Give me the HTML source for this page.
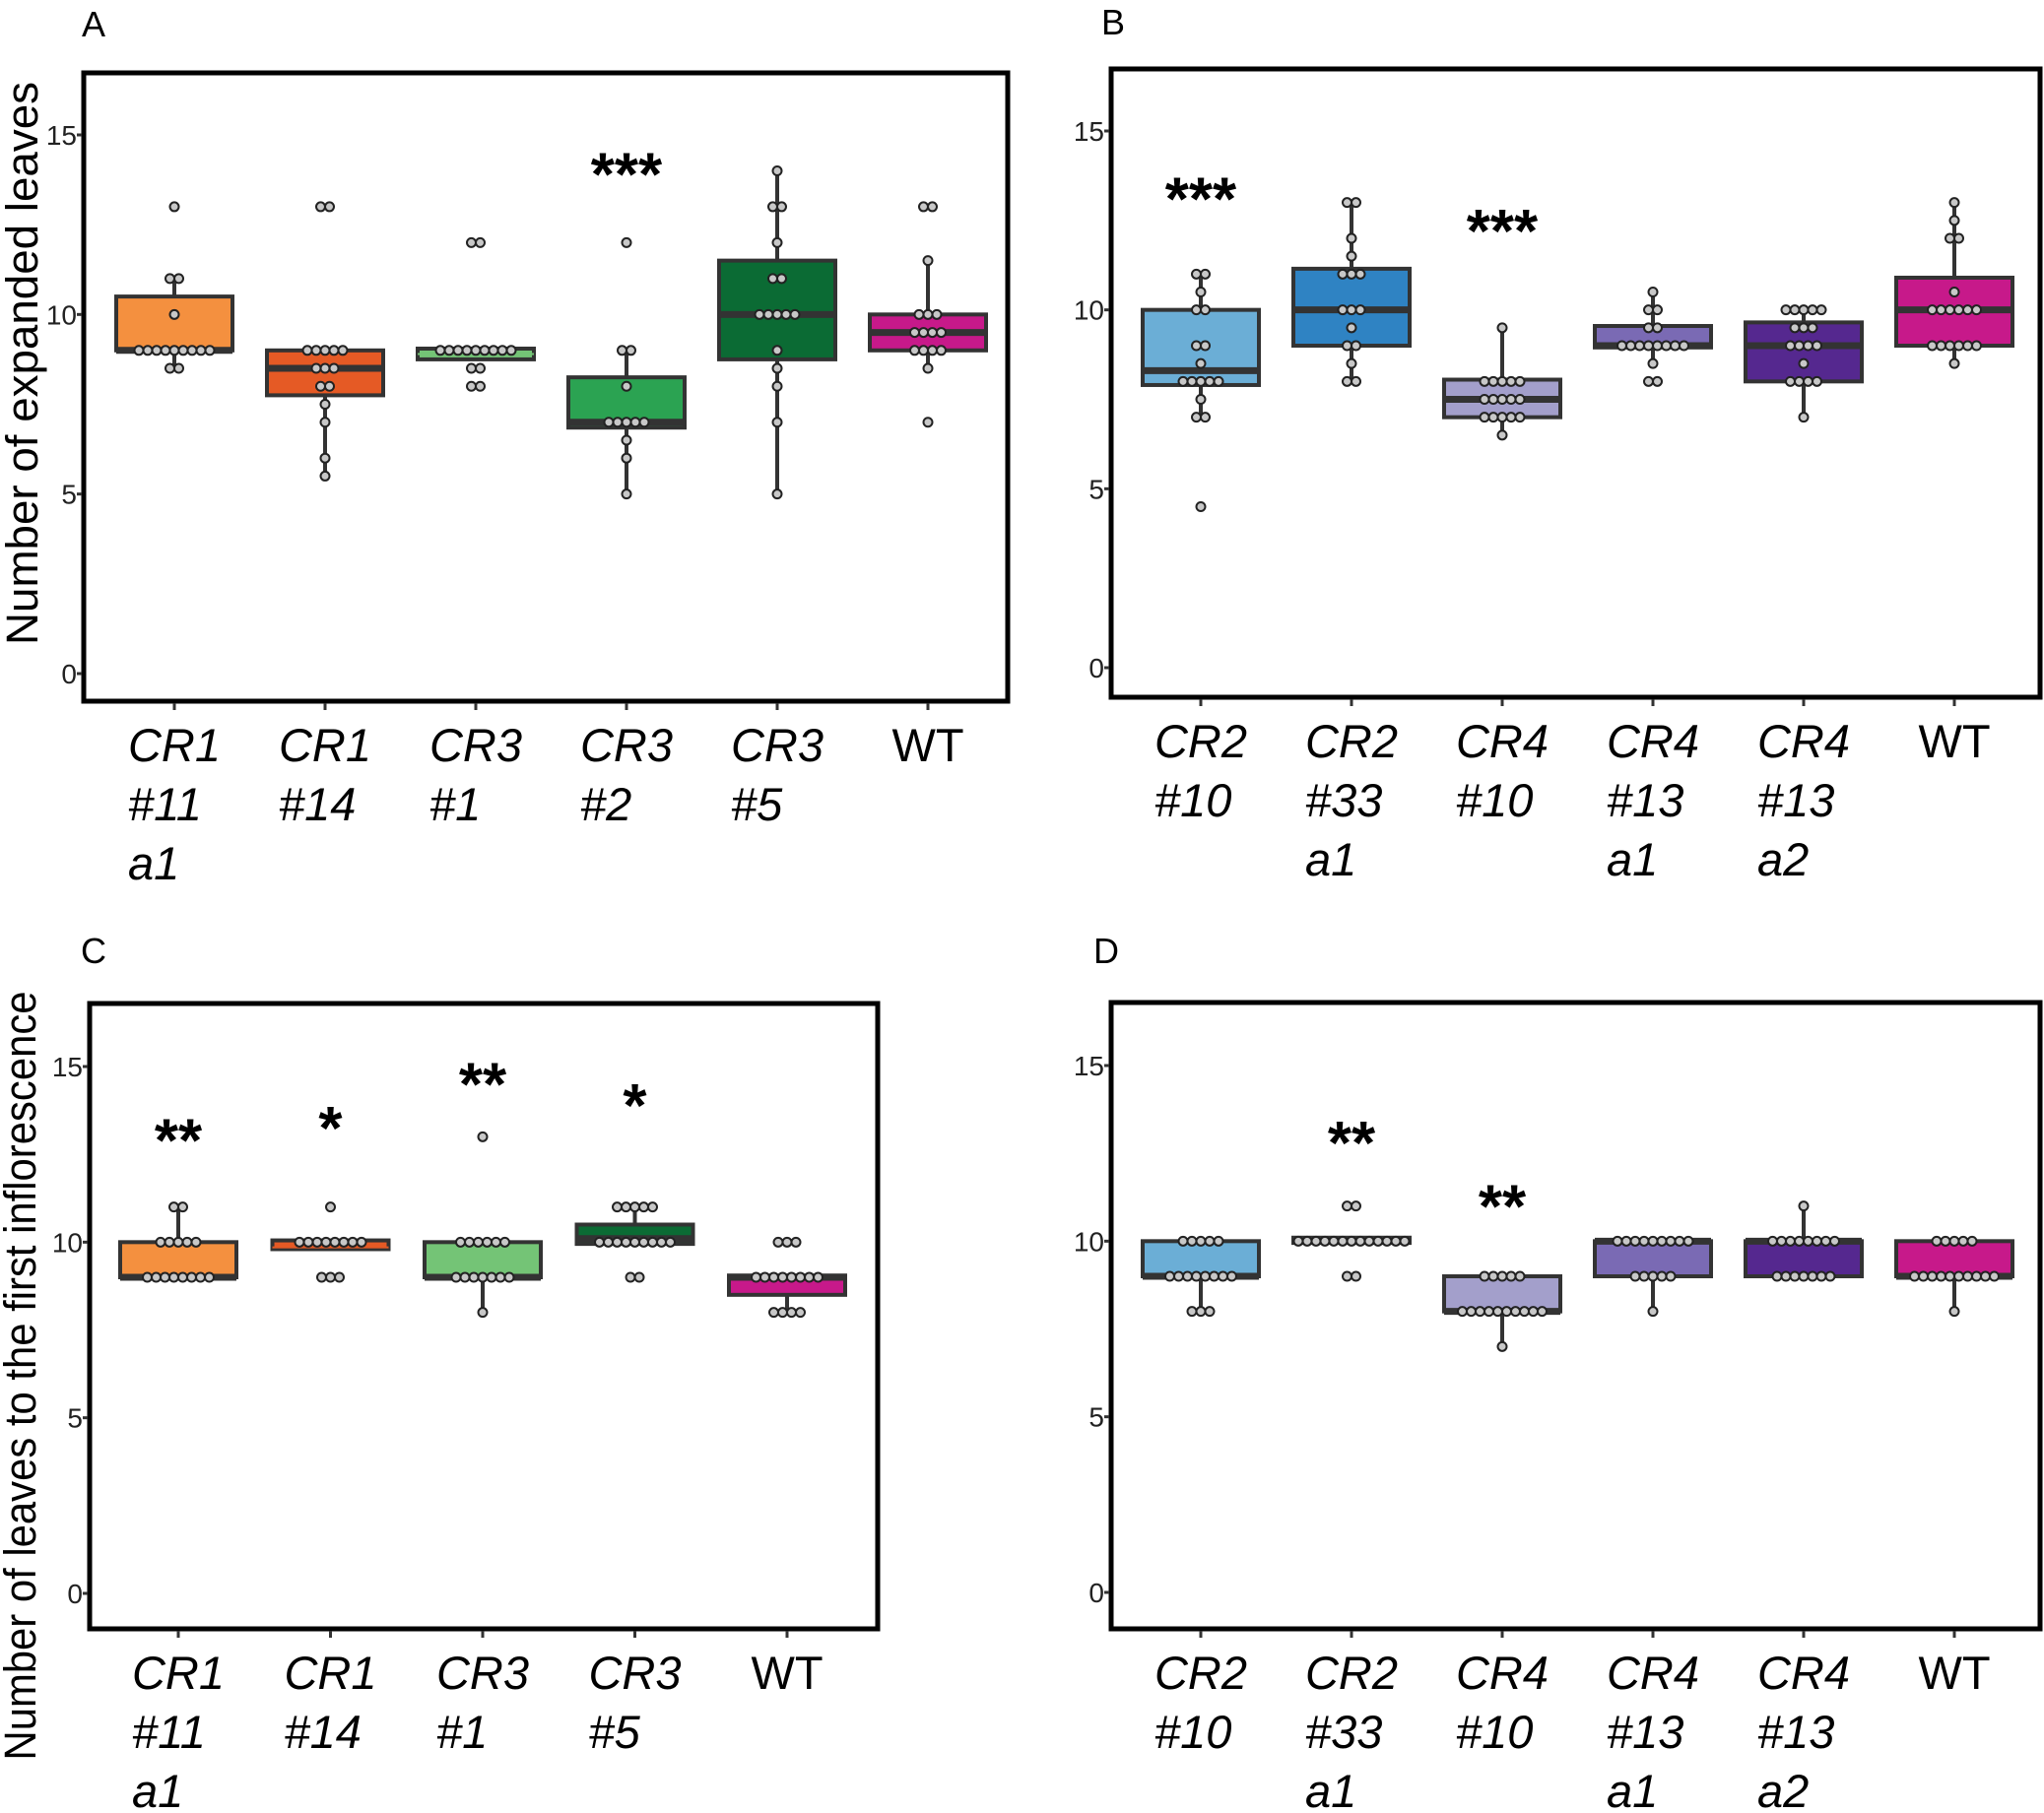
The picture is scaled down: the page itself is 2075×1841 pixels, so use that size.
<!DOCTYPE html>
<html><head><meta charset="utf-8">
<style>
html,body{margin:0;padding:0;background:#fff;}
svg{display:block;font-family:"Liberation Sans",sans-serif;}
</style></head>
<body>
<svg id="fig" width="2075" height="1841" viewBox="0 0 2075 1841" xmlns="http://www.w3.org/2000/svg"></svg>
<script>
// ---- Data ----
const aCats = [["CR1","#11","a1"],["CR1","#14"],["CR3","#1"],["CR3","#2"],["CR3","#5"],["WT"]];
const aQ1 = [9, 7.75, 8.75, 6.85, 8.75, 9];
const aMed = [9, 8.5, 8.9, 7, 10, 9.5];
const aQ3 = [10.5, 9, 9.05, 8.25, 11.5, 10];
const aLo = [8.5, 5.5, 8.75, 5, 5, 8.5];
const aHi = [11, 9, 9.05, 9, 14, 11.5];
const aDots = [
  [[13,1],[11,2],[10,1],[9,9],[8.5,2]],
  [[13,2],[9,5],[8.5,3],[8,2],[7.5,1],[7,1],[6,1],[5.5,1]],
  [[12,2],[9,9],[8.5,2],[8,2]],
  [[12,1],[9,2],[8,1],[7,5],[6.5,1],[6,1],[5,1]],
  [[14,1],[13,2],[12,1],[11,2],[10,5],[9,1],[8.5,1],[8,1],[7,1],[5,1]],
  [[13,2],[11.5,1],[10,3],[9.5,4],[9,4],[8.5,1],[7,1]]
];
const aStars = ["","","","***","",""];
const aStarY = [0,0,0,14.3,0,0];

const bCats = [["CR2","#10"],["CR2","#33","a1"],["CR4","#10"],["CR4","#13","a1"],["CR4","#13","a2"],["WT"]];
const bQ1 = [7.9, 9, 7, 8.95, 8, 9];
const bMed = [8.3, 10, 7.5, 9, 9, 10];
const bQ3 = [10, 11.15, 8.05, 9.55, 9.65, 10.9];
const bLo = [7, 8, 6.5, 8.5, 7, 8.5];
const bHi = [11, 13, 9.5, 10.5, 10, 13];
const bDots = [
  [[11,2],[10.5,1],[10,2],[9,2],[8.5,1],[8,5],[7.5,1],[7,2],[4.5,1]],
  [[13,2],[12,1],[11.5,1],[11,3],[10,3],[9.5,1],[9,2],[8.5,1],[8,2]],
  [[9.5,1],[8,5],[7.5,5],[7,5],[6.5,1]],
  [[10.5,1],[10,2],[9.5,2],[9,8],[8.5,1],[8,2]],
  [[10,5],[9.5,3],[9,4],[8.5,1],[8,4],[7,1]],
  [[13,1],[12.5,1],[12,2],[10.5,1],[10,6],[9,6],[8.5,1]]
];
const bStars = ["***","","***","","",""];
const bStarY = [13.5,0,12.6,0,0,0];

const cCats = [["CR1","#11","a1"],["CR1","#14"],["CR3","#1"],["CR3","#5"],["WT"]];
const cQ1 = [9, 9.8, 9, 9.95, 8.5];
const cMed = [9, 9.85, 9, 10.1, 9];
const cQ3 = [10, 10.05, 10, 10.5, 9.05];
const cLo = [9, 9.8, 8, 9.95, 8];
const cHi = [11, 10.05, 10, 11, 9.05];
const cDots = [
  [[11,2],[10,5],[9,8]],
  [[11,1],[10,8],[9,3]],
  [[13,1],[10,6],[9,7],[8,1]],
  [[11,5],[10,9],[9,2]],
  [[10,3],[9,8],[8,4]]
];
const cStars = ["**","*","**","*",""];
const cStarY = [13.3,13.65,14.9,14.3,0];

const dCats = [["CR2","#10"],["CR2","#33","a1"],["CR4","#10"],["CR4","#13","a1"],["CR4","#13","a2"],["WT"]];
const dQ1 = [9, 9.95, 8, 9, 9, 9];
const dMed = [9, 10, 8, 10, 10, 9];
const dQ3 = [10, 10.1, 9, 10, 10, 10];
const dLo = [8, 9.95, 7, 8, 9, 8];
const dHi = [10, 10.1, 9, 10, 11, 10];
const dDots = [
  [[10,5],[9,8],[8,3]],
  [[11,2],[10,13],[9,2]],
  [[9,5],[8,10],[7,1]],
  [[10,9],[9,5],[8,1]],
  [[11,1],[10,8],[9,7]],
  [[10,5],[9,10],[8,1]]
];
const dStars = ["","**","**","","",""];
const dStarY = [0,13.2,11.4,0,0,0];

const yTicks = [0,5,10,15];
const yTickLabels = ["0","5","10","15"];

// ---- Styling / layout (not data) ----
const aFill = ["#f4903f","#e55a25","#74c476","#2ba352","#0b6b34","#c7198a"];
const bFill = ["#6baed6","#2f83c3","#a39fcb","#7a6ab4","#55288f","#c7198a"];
const cFill = ["#f4903f","#e55a25","#74c476","#0b6b34","#c7198a"];
const aThin = [false,false,true,false,false,false];
const cThin = [false,true,false,false,false];
const bThin = [false,false,false,false,false,false];

const NS = "http://www.w3.org/2000/svg";
const svg = document.getElementById("fig");
function el(tag, attrs, parent){
  const e = document.createElementNS(NS, tag);
  for (const k in attrs) e.setAttribute(k, attrs[k]);
  (parent||svg).appendChild(e);
  return e;
}

function drawPanel(P){
  const g = el("g", {});
  
  
  const y = v => P.y0 + (P.y15 - P.y0) * v / 15;
  const x = i => P.xFirst + i * P.step;
  const lt = el("text", {x:P.letterX, y:P.letterY, "font-size":36, fill:"#000"}, g);
  lt.textContent = P.id.toUpperCase();
  
  
  const fr = el("rect", {x:P.left, y:P.top, width:P.right-P.left, height:P.bottom-P.top, fill:"none", stroke:"#000", "stroke-width":5}, g);
  
  
  yTicks.forEach((t, i) => {
    const tk = el("line", {x1:P.left-7, x2:P.left-2, y1:y(t), y2:y(t), stroke:"#333", "stroke-width":3}, g);
    
    
    const tl = el("text", {x:P.left-7, y:y(t)+10, "font-size":28, "text-anchor":"end", fill:"#222"}, g);
    tl.textContent = yTickLabels[i];
    
    
  });
  if (P.title){
    const tt = el("text", {x:0, y:0, "font-size":45, "text-anchor":"middle", fill:"#000",
      transform:`translate(${P.titleX},${P.titleY}) rotate(-90)`, textLength:P.titleLen, lengthAdjust:"spacingAndGlyphs"}, g);
    tt.textContent = P.title;
    
    
  }
  const hw = 59;
  P.cats.forEach((c, i) => {
    const cx = x(i);
    const grp = el("g", {}, g);
    
    
    const xt = el("line", {x1:cx, x2:cx, y1:P.bottom+2, y2:P.bottom+9, stroke:"#333", "stroke-width":3}, grp);
    
    
    const w1 = el("line", {x1:cx, x2:cx, y1:y(P.hi[i]), y2:y(P.q3[i]), stroke:"#333", "stroke-width":4}, grp);
    
    
    const w2 = el("line", {x1:cx, x2:cx, y1:y(P.q1[i]), y2:y(P.lo[i]), stroke:"#333", "stroke-width":4}, grp);
    
    
    const bx = el("rect", {x:cx-hw, y:y(P.q3[i]), width:2*hw, height:Math.max(2, y(P.q1[i])-y(P.q3[i])), fill:P.fill[i], stroke:"#333", "stroke-width":4}, grp);
    
    
    const md = el("line", {x1:cx-hw, x2:cx+hw, y1:y(P.med[i]), y2:y(P.med[i]),
      stroke: P.thin[i] ? P.fill[i] : "#333", "stroke-width": P.thin[i] ? 2 : 7}, grp);
    
    
    P.dots[i].forEach(([v, n]) => {
      for (let k = 0; k < n; k++){
        const dx = (k - (n-1)/2) * 9;
        const d = el("circle", {cx:cx+dx, cy:y(v), r:4.5, fill:"#c8c8c8", stroke:"#222", "stroke-width":2}, grp);
        
        
      }
    });
    if (P.stars[i]){
      const st = el("text", {x:cx, y:y(P.starY[i])+36, "font-size":62, "font-weight":"bold", "text-anchor":"middle", fill:"#000"}, grp);
      st.textContent = P.stars[i];
      
      
    }
    const lab = el("g", {}, grp);
    
    
    const texts = c.map((line, j) => {
      const t = el("text", {x:cx, y:P.bottom + 61 + j*60, "font-size":47, fill:"#000",
        "font-style": line === "WT" ? "normal" : "italic"}, lab);
      t.textContent = line;
      return t;
    });
    const w0 = texts[0].getComputedTextLength();
    texts.forEach(t => t.setAttribute("x", cx - w0/2));
  });
}

drawPanel({id:"a", left:85, right:1023, top:74, bottom:712, y0:684, y15:137, xFirst:177, step:153,
  letterX:83, letterY:37, title:"Number of expanded leaves", titleX:38, titleY:369, titleLen:572,
  cats:aCats, q1:aQ1, med:aMed, q3:aQ3, lo:aLo, hi:aHi, dots:aDots, stars:aStars, starY:aStarY, fill:aFill, thin:aThin});
drawPanel({id:"b", left:1128, right:2071, top:70, bottom:708, y0:678, y15:133, xFirst:1219, step:153,
  letterX:1118, letterY:35, title:null,
  cats:bCats, q1:bQ1, med:bMed, q3:bQ3, lo:bLo, hi:bHi, dots:bDots, stars:bStars, starY:bStarY, fill:bFill, thin:bThin});
drawPanel({id:"c", left:91, right:891, top:1019, bottom:1654, y0:1618, y15:1083, xFirst:181, step:154.5,
  letterX:82, letterY:978, title:"Number of leaves to the first inflorescence", titleX:36, titleY:1397, titleLen:781,
  cats:cCats, q1:cQ1, med:cMed, q3:cQ3, lo:cLo, hi:cHi, dots:cDots, stars:cStars, starY:cStarY, fill:cFill, thin:cThin});
drawPanel({id:"d", left:1128, right:2071, top:1018, bottom:1654, y0:1617, y15:1082, xFirst:1219, step:153,
  letterX:1110, letterY:978, title:null,
  cats:dCats, q1:dQ1, med:dMed, q3:dQ3, lo:dLo, hi:dHi, dots:dDots, stars:dStars, starY:dStarY, fill:bFill, thin:bThin});
</script>
</body></html>
